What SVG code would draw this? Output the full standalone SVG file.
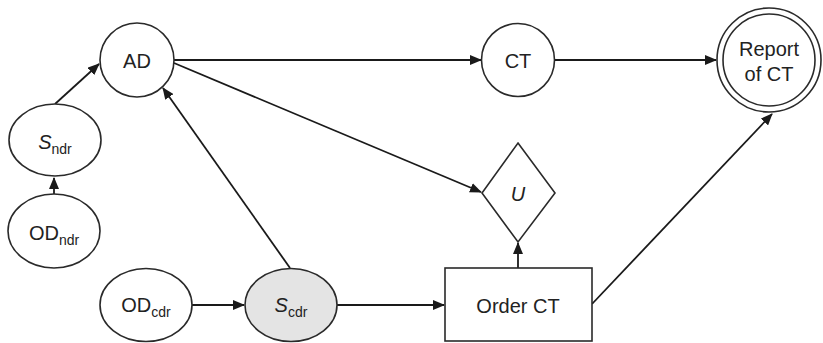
<svg xmlns="http://www.w3.org/2000/svg" width="823" height="343" viewBox="0 0 823 343">
<defs>
<marker id="ah" markerWidth="12" markerHeight="10" refX="11" refY="5" orient="auto" markerUnits="userSpaceOnUse">
<path d="M0,0 L12,5 L0,10 z" fill="#1a1a1a"/>
</marker>
</defs>
<style>
.n{fill:#fff;stroke:#2a2a2a;stroke-width:1.6}
.g{fill:#e4e4e4;stroke:#2a2a2a;stroke-width:1.6}
.t{font-family:"Liberation Sans",Arial,sans-serif;font-size:20px;fill:#222;text-anchor:middle}
.s{font-size:14px}
.i{font-style:italic}
.c{fill:none;stroke:#1a1a1a;stroke-width:1.8;marker-end:url(#ah)}
</style>
<rect width="823" height="343" fill="#fff"/>
<g id="connectors">
<line class="c" x1="55" y1="104" x2="99" y2="64"/>
<line class="c" x1="54" y1="194" x2="54" y2="178"/>
<line class="c" x1="174" y1="60" x2="481" y2="60"/>
<line class="c" x1="555" y1="60" x2="716" y2="60"/>
<line class="c" x1="174" y1="63" x2="481" y2="192"/>
<line class="c" x1="290" y1="268" x2="163" y2="88"/>
<line class="c" x1="192" y1="305" x2="244" y2="305"/>
<line class="c" x1="337" y1="305" x2="444" y2="305"/>
<line class="c" x1="518" y1="268" x2="518" y2="243"/>
<line class="c" x1="592" y1="304" x2="772" y2="114"/>
</g>
<g id="AD">
<circle class="n" cx="137" cy="60" r="37"/>
<text class="t" x="137" y="68">AD</text>
</g>
<g id="CT">
<circle class="n" cx="518" cy="60" r="36.5"/>
<text class="t" x="518" y="68">CT</text>
</g>
<g id="Report">
<circle class="n" cx="769" cy="60" r="52"/>
<circle class="n" cx="769" cy="60" r="46"/>
<text class="t" x="769" y="56">Report</text>
<text class="t" x="769" y="81">of CT</text>
</g>
<g id="Sndr">
<ellipse class="n" cx="55" cy="140" rx="46" ry="36"/>
<text class="t" x="55" y="149"><tspan class="i">S</tspan><tspan class="s" dy="5">ndr</tspan></text>
</g>
<g id="ODndr">
<ellipse class="n" cx="54" cy="231" rx="46" ry="37"/>
<text class="t" x="54" y="240">OD<tspan class="s" dy="5">ndr</tspan></text>
</g>
<g id="ODcdr">
<ellipse class="n" cx="146" cy="305" rx="46" ry="36.5"/>
<text class="t" x="146" y="312">OD<tspan class="s" dy="5">cdr</tspan></text>
</g>
<g id="Scdr">
<ellipse class="g" cx="291" cy="305" rx="46" ry="36.5"/>
<text class="t" x="291" y="312"><tspan class="i">S</tspan><tspan class="s" dy="5">cdr</tspan></text>
</g>
<g id="U">
<polygon class="n" points="518,143 555,193 518,242 482,193"/>
<text class="t i" x="518" y="201">U</text>
</g>
<g id="OrderCT">
<rect class="n" x="445" y="268" width="147" height="73"/>
<text class="t" x="518" y="313">Order CT</text>
</g>
</svg>
